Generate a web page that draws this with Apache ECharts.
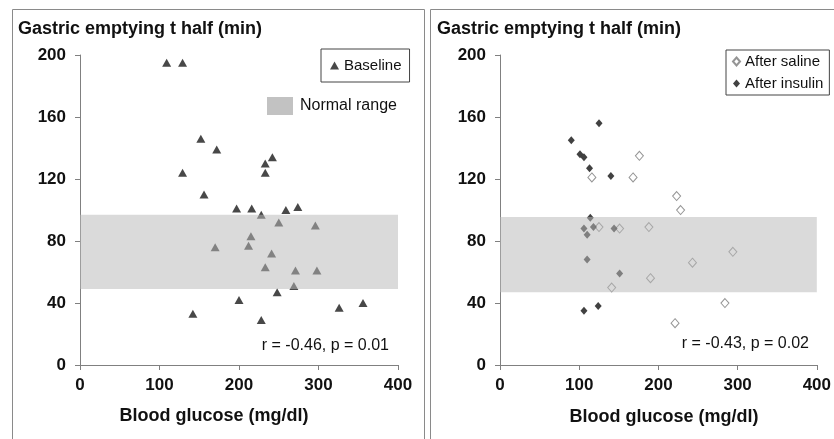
<!DOCTYPE html>
<html><head><meta charset="utf-8">
<script src="https://cdn.jsdelivr.net/npm/echarts@6/dist/echarts.min.js"></script>
<style>html,body{margin:0;padding:0;background:#fff;}#c{width:834px;height:439px;}</style>
</head><body><div id="c"></div>
<script>
// ---- data ----
var xTicks = [0, 100, 200, 300, 400];
var yTicks = [0, 40, 80, 120, 160, 200];
var baseX = [109,129,152,172,129,156,233,242,233,197,216,259,274,228,250,296,215,212,170,241,233,271,298,269,248,200,142,228,326,356];
var baseY = [195,195,146,139,124,110,130,134,124,101,101,100,102,97,92,90,83,77,76,72,63,61,61,51,47,42,33,29,37,40];
var salX = [116,168,176,223,228,125,151,188,294,243,190,141,284,221];
var salY = [121,121,135,109,100,89,88,89,73,66,56,50,40,27];
var insX = [90,101,106,113,125,140,114,106,118,110,144,110,151,106,124];
var insY = [145,136,134,127,156,122,95,88,89,84,88,68,59,35,38];
var bandLeft = [49, 97];
var bandRight = [47, 95.5];
var yTitle = 'Gastric emptying t half (min)';
var xTitle = 'Blood glucose (mg/dl)';
var statLeft = 'r = -0.46, p = 0.01';
var statRight = 'r = -0.43, p = 0.02';

function pairs(xs, ys){ return xs.map(function(v,i){ return [v, ys[i]]; }); }

var FONT = '"Liberation Sans", Arial, sans-serif';
var axisCol = '#808080';

function xAx(gi){ return {
  gridIndex: gi, type:'value', min:xTicks[0], max:xTicks[xTicks.length-1], interval:xTicks[1]-xTicks[0],
  axisLine:{show:true,lineStyle:{color:axisCol,width:1}},
  axisTick:{show:true,length:5,lineStyle:{color:axisCol}},
  splitLine:{show:false},
  axisLabel:{margin:12,color:'#111',fontFamily:FONT,fontWeight:'bold',fontSize:17}
};}
function yAx(gi){ return {
  gridIndex: gi, type:'value', min:yTicks[0], max:yTicks[yTicks.length-1], interval:yTicks[1]-yTicks[0],
  axisLine:{show:true,lineStyle:{color:axisCol,width:1}},
  axisTick:{show:true,length:5,lineStyle:{color:axisCol}},
  splitLine:{show:false},
  axisLabel:{margin:14,color:'#111',fontFamily:FONT,fontWeight:'bold',fontSize:17}
};}
function band(gi, r){ return {
  type:'scatter', xAxisIndex:gi, yAxisIndex:gi, data:[], z:10, silent:true,
  markArea:{z:10, silent:true, itemStyle:{color:'rgba(185,185,185,0.52)'}, data:[[{yAxis:r[0]},{yAxis:r[1]}]]}
};}

var chart = echarts.init(document.getElementById('c'), null, {renderer:'canvas'});
chart.setOption({
  animation:false,
  backgroundColor:'#fff',
  grid:[
    {left:80, top:55, width:318, height:310, containLabel:false},
    {left:500, top:55, width:318, height:310, containLabel:false}
  ],
  xAxis:[xAx(0), xAx(1)],
  yAxis:[yAx(0), yAx(1)],
  legend:[
    {data:['Baseline'], left:321, top:49, orient:'vertical', borderColor:'#444', borderWidth:1,
     padding:[9,8,9,9], itemWidth:9, itemHeight:8,
     textStyle:{fontFamily:FONT,fontSize:15,color:'#111'}},
    {data:['After saline','After insulin'], left:726, top:50, orient:'vertical', borderColor:'#444', borderWidth:1,
     padding:[4,6,4,6], itemWidth:7, itemHeight:8, itemGap:7,
     textStyle:{fontFamily:FONT,fontSize:15,color:'#111'}}
  ],
  series:[
    {name:'Baseline', type:'scatter', xAxisIndex:0, yAxisIndex:0, symbol:'triangle', symbolSize:[9,8], z:2,
     itemStyle:{color:'#1a1a1a'}, data:pairs(baseX, baseY)},
    band(0, bandLeft),
    {name:'After saline', type:'scatter', xAxisIndex:1, yAxisIndex:1, symbol:'diamond', symbolSize:[8,9], z:2,
     itemStyle:{color:'#fff', borderColor:'#7a7a7a', borderWidth:1}, data:pairs(salX, salY)},
    {name:'After insulin', type:'scatter', xAxisIndex:1, yAxisIndex:1, symbol:'diamond', symbolSize:[7,8], z:3,
     itemStyle:{color:'#111'}, data:pairs(insX, insY)},
    band(1, bandRight)
  ],
  graphic:[
    {type:'rect', shape:{x:12.5,y:9.5,width:412,height:440}, style:{fill:null, stroke:'#8a8a8a', lineWidth:1}, silent:true},
    {type:'rect', shape:{x:430.5,y:9.5,width:410,height:440}, style:{fill:null, stroke:'#8a8a8a', lineWidth:1}, silent:true},
    {type:'text', left:18, top:20, style:{text:yTitle, font:'bold 18px '+FONT, fill:'#111'}},
    {type:'text', left:437, top:20, style:{text:yTitle, font:'bold 18px '+FONT, fill:'#111'}},
    {type:'text', x:214, y:416, style:{text:xTitle, font:'bold 18px '+FONT, fill:'#111', align:'center', verticalAlign:'middle'}},
    {type:'text', x:664, y:417, style:{text:xTitle, font:'bold 18px '+FONT, fill:'#111', align:'center', verticalAlign:'middle'}},
    {type:'text', x:389, y:346, style:{text:statLeft, font:'16px '+FONT, fill:'#111', align:'right', verticalAlign:'middle'}},
    {type:'text', x:809, y:344, style:{text:statRight, font:'16px '+FONT, fill:'#111', align:'right', verticalAlign:'middle'}},
    {type:'rect', shape:{x:267,y:97,width:26,height:18}, style:{fill:'#c2c2c2'}},
    {type:'text', x:300, y:106, style:{text:'Normal range', font:'16px '+FONT, fill:'#111', align:'left', verticalAlign:'middle'}}
  ]
});
</script></body></html>
